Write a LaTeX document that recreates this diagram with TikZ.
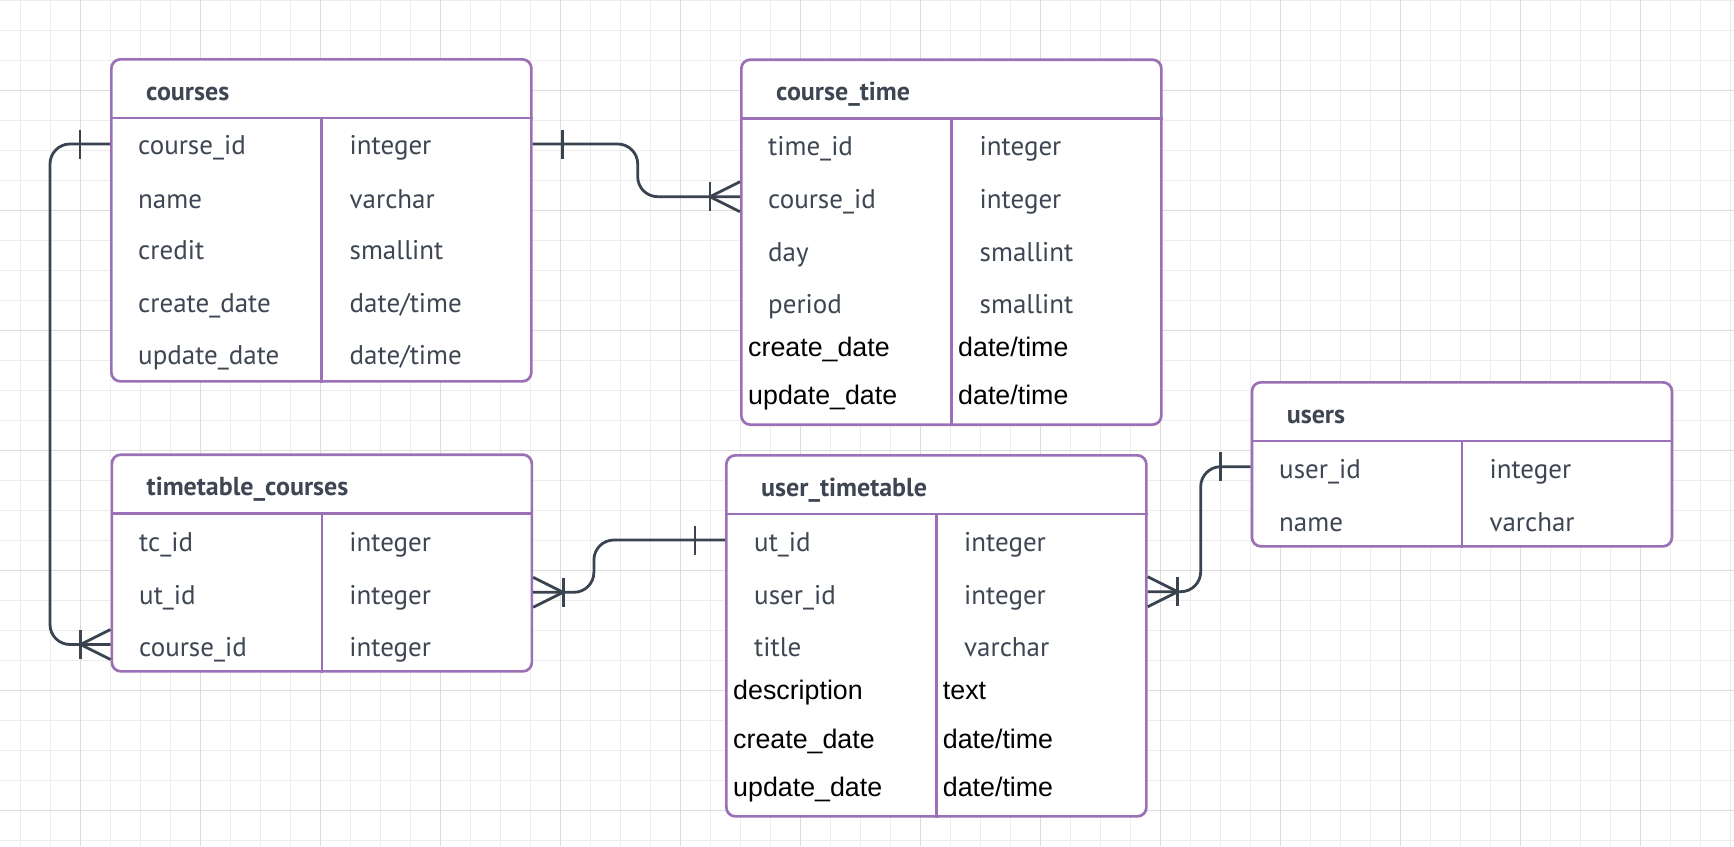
\documentclass[tikz,border=0pt]{standalone}
\usepackage{fontspec}
\setmainfont{PT Sans}
\newfontfamily\arialf{Liberation Sans}
\usetikzlibrary{calc}
\definecolor{gminor}{HTML}{EDEDED}
\definecolor{gmajor}{HTML}{DCDCDC}
\definecolor{purp}{HTML}{9B70B6}
\definecolor{conncol}{HTML}{3A4450}
\definecolor{txtcol}{HTML}{3D4652}
\tikzset{
  tbl/.style={draw=purp, line width=2.7pt, rounded corners=9pt, fill=white, minimum width=420pt, inner sep=0pt},
  tline/.style={draw=purp, line width=2.7pt},
  ttl/.style={anchor=base west, inner sep=0pt, text=txtcol, font=\fontsize{26}{30}\selectfont\bfseries},
  fld/.style={anchor=base west, inner sep=0pt, text=txtcol, font=\fontsize{27}{30}\selectfont},
  fldb/.style={anchor=base west, inner sep=0pt, text=black, font=\arialf\fontsize{26.8}{30}\selectfont},
  conn/.style={draw=conncol, line width=2.8pt},
  gmin/.style={draw=gminor, line width=1pt},
  gmaj/.style={draw=gmajor, line width=1.3pt},
}
\newcommand{\mktable}[5]{%
  \node[tbl, minimum height=#4, anchor=north west] (#1) at (#2,#3) {};
  \draw[tline] ($(#1.north west)+(0,60)$) -- ($(#1.north east)+(0,60)$);
  \draw[tline] ($(#1.north)+(0,60)$) -- (#1.south);
  \node[ttl] (#1-title) at ($(#1.north west)+(36,42)$) {#5};
}
\begin{document}
\begin{tikzpicture}[x=1pt,y=-1pt]
\useasboundingbox (0,0) rectangle (1734,846);
\fill[white] (0,0) rectangle (1734,846);
% grid
\foreach \x in {20.7,50.7,...,1734} \draw[gmin] (\x,0) -- (\x,846);
\foreach \y in {0.7,30.7,...,846} \draw[gmin] (0,\y) -- (1734,\y);
\foreach \x in {80.7,200.7,...,1734} \draw[gmaj] (\x,0) -- (\x,846);
\foreach \y in {90.7,210.7,...,846} \draw[gmaj] (0,\y) -- (1734,\y);

% row coordinates for connectors
\coordinate (y-c1) at (0,144);
\coordinate (y-ct2) at (0,196.7);
\coordinate (y-tcu) at (0,592.3);
\coordinate (y-tcc) at (0,644.5);
\coordinate (y-ut1) at (0,540);
\coordinate (y-ut2) at (0,591.7);
\coordinate (y-us1) at (0,466.7);

% tables
\mktable{courses}{110}{58}{322}{courses}
\mktable{ct}{740}{58.3}{365}{course\_time}
\mktable{tc}{110.5}{453.3}{216.7}{timetable\_courses}
\mktable{ut}{725}{454}{361}{user\_timetable}
\mktable{users}{1250.6}{381}{164}{users}

% courses fields
\node[fld] (courses-n1) at (138,154.7) {course\_id};
\node[fld] (courses-n2) at (138,208) {name};
\node[fld] (courses-n3) at (138,259.7) {credit};
\node[fld] (courses-n4) at (138,312) {create\_date};
\node[fld] (courses-n5) at (138,364.7) {update\_date};
\node[fld] (courses-t1) at (349.5,154.7) {integer};
\node[fld] (courses-t2) at (349.5,208) {varchar};
\node[fld] (courses-t3) at (349.5,259.7) {smallint};
\node[fld] (courses-t4) at (349.5,312) {date/time};
\node[fld] (courses-t5) at (349.5,364.7) {date/time};

% course_time fields
\node[fld] (ct-n1) at (768,155.3) {time\_id};
\node[fld] (ct-n2) at (768,208) {course\_id};
\node[fld] (ct-n3) at (768,261.3) {day};
\node[fld] (ct-n4) at (768,313) {period};
\node[fldb] (ct-n5) at (748,356.3) {create\_date};
\node[fldb] (ct-n6) at (748,404.7) {update\_date};
\node[fld] (ct-t1) at (979.5,155.3) {integer};
\node[fld] (ct-t2) at (979.5,208) {integer};
\node[fld] (ct-t3) at (979.5,261.3) {smallint};
\node[fld] (ct-t4) at (979.5,313) {smallint};
\node[fldb] (ct-t5) at (958,356.3) {date/time};
\node[fldb] (ct-t6) at (958,404.7) {date/time};

% timetable_courses fields
\node[fld] (tc-n1) at (139,551.3) {tc\_id};
\node[fld] (tc-n2) at (139,604) {ut\_id};
\node[fld] (tc-n3) at (139,656.3) {course\_id};
\node[fld] (tc-t1) at (349.2,551.3) {integer};
\node[fld] (tc-t2) at (349.2,604) {integer};
\node[fld] (tc-t3) at (349.2,656.3) {integer};

% user_timetable fields
\node[fld] (ut-n1) at (754,551.3) {ut\_id};
\node[fld] (ut-n2) at (754,604) {user\_id};
\node[fld] (ut-n3) at (754,656.3) {title};
\node[fldb] (ut-n4) at (733,699.7) {description};
\node[fldb] (ut-n5) at (733,748) {create\_date};
\node[fldb] (ut-n6) at (733,796.3) {update\_date};
\node[fld] (ut-t1) at (964,551.3) {integer};
\node[fld] (ut-t2) at (964,604) {integer};
\node[fld] (ut-t3) at (964,656.3) {varchar};
\node[fldb] (ut-t4) at (942.7,699.7) {text};
\node[fldb] (ut-t5) at (942.7,748) {date/time};
\node[fldb] (ut-t6) at (942.7,796.3) {date/time};

% users fields
\node[fld] (users-n1) at (1279,478) {user\_id};
\node[fld] (users-n2) at (1279,531.3) {name};
\node[fld] (users-t1) at (1489.3,478) {integer};
\node[fld] (users-t2) at (1489.3,531.3) {varchar};

% connectors
\draw[conn, rounded corners=20pt] (courses.west |- y-c1) -- ++(-60,0) |- (tc.west |- y-tcc);
\draw[conn, rounded corners=20pt] (courses.east |- y-c1) -- ++(105,0) |- (ct.west |- y-ct2);
\draw[conn, rounded corners=20pt] (tc.east |- y-tcu) -- ++(60.7,0) |- (ut.west |- y-ut1);
\draw[conn, rounded corners=20pt] (ut.east |- y-ut2) -- ++(53,0) |- (users.west |- y-us1);

% one marks
\draw[conn] ($(courses.west |- y-c1)+(-30,-14.5)$) -- ++(0,29);
\draw[conn] ($(courses.east |- y-c1)+(30,-14.5)$) -- ++(0,29);
\draw[conn] ($(ut.west |- y-ut1)+(-30,-14.5)$) -- ++(0,29);
\draw[conn] ($(users.west |- y-us1)+(-30,-14.5)$) -- ++(0,29);

% crow's feet (one-or-many)
\draw[conn] ($(tc.west |- y-tcc)+(0,-15)$) -- ++(-30,15) -- ++(30,15);
\draw[conn] ($(tc.west |- y-tcc)+(-30,-14.5)$) -- ++(0,29);
\draw[conn] ($(ct.west |- y-ct2)+(0,-15)$) -- ++(-30,15) -- ++(30,15);
\draw[conn] ($(ct.west |- y-ct2)+(-30,-14.5)$) -- ++(0,29);
\draw[conn] ($(tc.east |- y-tcu)+(0,-15)$) -- ++(30,15) -- ++(-30,15);
\draw[conn] ($(tc.east |- y-tcu)+(30,-14.5)$) -- ++(0,29);
\draw[conn] ($(ut.east |- y-ut2)+(0,-15)$) -- ++(30,15) -- ++(-30,15);
\draw[conn] ($(ut.east |- y-ut2)+(30,-14.5)$) -- ++(0,29);
\end{tikzpicture}
\end{document}
